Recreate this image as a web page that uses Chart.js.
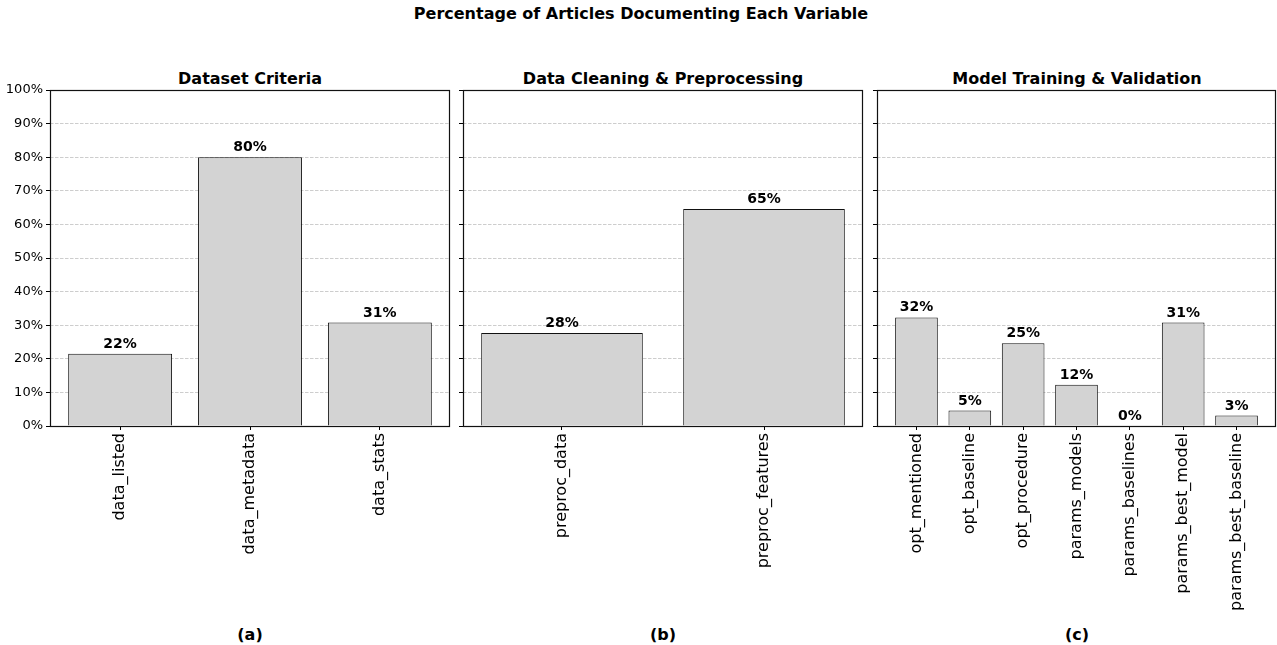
<!DOCTYPE html>
<html>
<head>
<meta charset="utf-8">
<script src="https://cdn.jsdelivr.net/npm/chart.js@4.4.1/dist/chart.umd.min.js"></script>
<style>
	body { margin: 0; background: #fff; width: 1277px; height: 645px; position: relative; overflow: hidden; font-family: 'DejaVu Sans', sans-serif; }
	canvas { position: absolute; top: 0; }
	.txt { position: absolute; font-weight: bold; line-height: 1; white-space: nowrap; transform: translateX(-50%); color: #000; }
</style>
</head>
<body>
<div class="txt" style="left:641px; top:6px; font-size:16px;">Percentage of Articles Documenting Each Variable</div>
<div class="txt" style="left:250px; top:71px; font-size:16px;">Dataset Criteria</div>
<div class="txt" style="left:663px; top:71px; font-size:16px;">Data Cleaning &amp; Preprocessing</div>
<div class="txt" style="left:1077px; top:71px; font-size:16px;">Model Training &amp; Validation</div>
<div class="txt" style="left:250px; top:627px; font-size:16px;">(a)</div>
<div class="txt" style="left:663px; top:627px; font-size:16px;">(b)</div>
<div class="txt" style="left:1077px; top:627px; font-size:16px;">(c)</div>

<canvas id="datasetChart" width="455" height="645" style="left:0px;"></canvas>
<canvas id="cleaningChart" width="415" height="645" style="left:453px;"></canvas>
<canvas id="trainingChart" width="410" height="645" style="left:867px;"></canvas>

<script>
(function () {
	// percentages of articles (n = 65)
	const datasetLabels = ['data_listed', 'data_metadata', 'data_stats'];
	const datasetValues = [21.5, 80.0, 30.8];
	const cleaningLabels = ['preproc_data', 'preproc_features'];
	const cleaningValues = [27.7, 64.6];
	const trainingLabels = ['opt_mentioned', 'opt_baseline', 'opt_procedure', 'params_models', 'params_baselines', 'params_best_model', 'params_best_baseline'];
	const trainingValues = [32.3, 4.6, 24.6, 12.3, 0, 30.8, 3.1];
	const yTickValues = [0, 10, 20, 30, 40, 50, 60, 70, 80, 90, 100];

	const FONT = "'DejaVu Sans', sans-serif";

	// black box round the plot area + bold value labels on bars
	const frameAndLabels = {
		id: 'frameAndLabels',
		afterDatasetsDraw(chart) {
			const ctx = chart.ctx;
			const a = chart.chartArea;
			ctx.save();
			ctx.strokeStyle = '#111';
			ctx.lineWidth = 1.2;
			ctx.strokeRect(Math.round(a.left) + 0.5, Math.round(a.top) + 0.5, Math.round(a.right - a.left) - 1, Math.round(a.bottom - a.top));
			ctx.fillStyle = '#000';
			ctx.font = 'bold 14px ' + FONT;
			ctx.textAlign = 'center';
			ctx.textBaseline = 'alphabetic';
			const meta = chart.getDatasetMeta(0);
			const values = chart.data.datasets[0].data;
			meta.data.forEach(function (bar, i) {
				ctx.fillText(Math.round(values[i].y) + '%', bar.x, bar.y - 6);
			});
			ctx.restore();
		},
	};

	function panel(canvasId, labels, values, yAxisWidth, rightPad, showYLabels) {
		const n = labels.length;
		const span = (n - 1) + 0.8;
		const config = {
			type: 'bar',
			data: {
				datasets: [
					{
						data: values.map(function (v, i) { return { x: i, y: v }; }),
						backgroundColor: '#d3d3d3',
						borderColor: '#111',
						borderWidth: 1,
						barPercentage: 0.8,
						categoryPercentage: 1,
					},
				],
			},
			options: {
				responsive: false,
				animation: false,
				events: [],
				layout: { padding: { top: 90, right: rightPad, bottom: 0, left: 0 } },
				plugins: {
					legend: { display: false },
					tooltip: { enabled: false },
				},
				scales: {
					x: {
						type: 'linear',
						offset: false,
						min: -0.4 - 0.05 * span,
						max: (n - 1) + 0.4 + 0.05 * span,
						afterBuildTicks: function (scale) {
							scale.ticks = labels.map(function (_, i) { return { value: i }; });
						},
						afterFit: function (scale) { scale.height = 219; },
						grid: { offset: false, drawOnChartArea: false, tickLength: 4, tickColor: '#000', tickWidth: 1 },
						border: { display: false },
						ticks: {
							autoSkip: false,
							minRotation: 90,
							maxRotation: 90,
							padding: 3,
							color: '#000',
							font: { family: FONT, size: 16 },
							callback: function (v) { return labels[v]; },
						},
					},
					y: {
						min: 0,
						max: 100,
						afterBuildTicks: function (scale) {
							scale.ticks = yTickValues.map(function (v) { return { value: v }; });
						},
						afterFit: function (scale) { scale.width = yAxisWidth; },
						grid: { color: '#c0c0c0', lineWidth: 0.8, tickLength: 4, tickColor: '#000', tickWidth: 1, tickBorderDash: [] },
						border: { display: false, dash: [3.5, 1.5] },
						ticks: {
							display: showYLabels,
							padding: 3,
							color: '#000',
							font: { family: FONT, size: 13 },
							callback: function (v) { return v + '%'; },
						},
					},
				},
			},
			plugins: [frameAndLabels],
		};
		new Chart(document.getElementById(canvasId), config);
	}

	panel('datasetChart', datasetLabels, datasetValues, 50, 5, true);
	panel('cleaningChart', cleaningLabels, cleaningValues, 10, 5, false);
	panel('trainingChart', trainingLabels, trainingValues, 10, 1, false);
})();
</script>
</body>
</html>
